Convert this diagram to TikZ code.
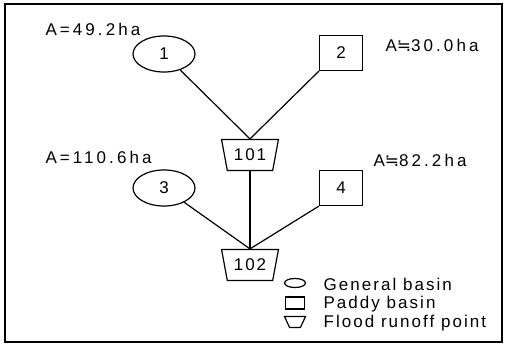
\documentclass[tikz,border=0pt]{standalone}
\usepackage{fontspec}
\setmainfont[LetterSpace=12]{Liberation Sans}
\newfontfamily\symfont{DejaVu Sans}
\usetikzlibrary{shapes.geometric}

\begin{document}
\begin{tikzpicture}[x=1pt, y=-1pt, line width=1.2pt,
		every node/.style={font=\fontsize{17}{20}\selectfont},
		gbasin/.style={draw, ellipse, minimum width=62pt, minimum height=36pt, inner sep=0pt},
		pbasin/.style={draw, rectangle, minimum width=43pt, minimum height=35pt, inner sep=0pt},
		runoff/.style={draw, trapezium, shape border rotate=180, trapezium angle=72,
			trapezium stretches=true, minimum width=57pt, minimum height=31pt, inner sep=0.5pt},
		area/.style={anchor=west, inner sep=0pt, font=\fontsize{17}{20}\selectfont\addfontfeatures{LetterSpace=18}},
		keytext/.style={anchor=west, inner sep=0pt}]
			%%%%% START %%%%%
			
			\useasboundingbox (0, 0) rectangle (507, 348);
			\draw[line width=2pt] (5, 3.5) rectangle (502, 341.5);
			
			\node[gbasin] (b1) at (164, 54) {1};
			\node[pbasin] (b2) at (341, 53) {2};
			\node[runoff] (p101) at (250, 155) {101};
			\node[gbasin] (b3) at (164, 188) {3};
			\node[pbasin] (b4) at (341, 188) {4};
			\node[runoff] (p102) at (250, 265) {102};
			
			\node[area] (a1) at (45, 29) {A=49.2ha};
			\node[area] (a2) at (385, 45) {A{\symfont ≒}30.0ha};
			\node[area] (a3) at (45, 157) {A=110.6ha};
			\node[area] (a4) at (373, 160) {A{\symfont ≒}82.2ha};
			
			\draw (b1) -- (p101.bottom side);
			\draw (b2.south west) -- (p101.bottom side);
			\draw (p101.top side) -- (p102.bottom side);
			\draw (b3) -- (p102.bottom side);
			\draw (b4.south west) -- (p102.bottom side);
			
			% legend
			\node[draw, ellipse, minimum width=21pt, minimum height=9pt, inner sep=0pt] (k1) at (295, 283) {};
			\node[draw, rectangle, minimum width=19pt, minimum height=12pt, inner sep=0pt] (k2) at (295, 303) {};
			\node[draw, trapezium, shape border rotate=180, trapezium angle=65, trapezium stretches=true,
				minimum width=21pt, minimum height=11pt, inner sep=1pt] (k3) at (295, 322) {};
			\node[keytext] (t1) at (323, 284) {General basin};
			\node[keytext] (t2) at (323, 304) {Paddy basin};
			\node[keytext] (t3) at (323, 323) {Flood runoff point};
			
			%%%%% END %%%%%
		\end{tikzpicture}
\end{document}
